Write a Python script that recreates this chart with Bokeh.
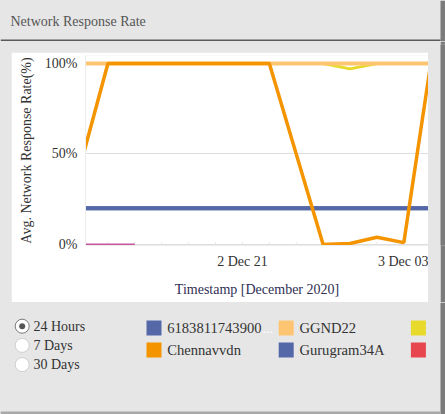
import pandas as pd
from bokeh.plotting import figure
from bokeh.layouts import column, row
from bokeh.models import Range1d, FixedTicker
from bokeh.core.properties import value
from bokeh.embed import file_html
from bokeh.resources import INLINE

FONT = "Liberation Serif"

# ---------------- data ----------------
title_text = "Network Response Rate"
times = ["2020-12-02 15:00", "2020-12-02 16:00", "2020-12-02 17:00", "2020-12-02 18:00",
         "2020-12-02 19:00", "2020-12-02 20:00", "2020-12-02 21:00", "2020-12-02 22:00",
         "2020-12-02 23:00", "2020-12-03 00:00", "2020-12-03 01:00", "2020-12-03 02:00",
         "2020-12-03 03:00", "2020-12-03 04:00"]
chennavvdn = [45, 100, 100, 100, 100, 100, 100, 100, 50, 0, 0.5, 4, 1, 100]
ggnd22 = [100, 100, 100, 100, 100, 100, 100, 100, 100, 100, 100, 100, 100, 100]
yellow_series = [100, 100, 100, 100, 100, 100, 100, 100, 100, 100, 97, 100, 100, 100]
gurugram34a = [20, 20, 20, 20, 20, 20, 20, 20, 20, 20, 20, 20, 20, 20]
s6183811743900 = [20, 20, 20, 20, 20, 20, 20, 20, 20, 20, 20, 20, 20, 20]
pink_times = ["2020-12-02 15:00", "2020-12-02 16:00", "2020-12-02 17:00"]
pink_series = [0, 0, 0]

y_ticks = [0, 50, 100]
y_tick_labels = ["0%", "50%", "100%"]
x_ticks = ["2020-12-02 21:00", "2020-12-03 03:00"]
x_tick_labels = ["2 Dec 21", "3 Dec 03"]
x_view = ["2020-12-02 15:10", "2020-12-03 03:55"]
x_title = "Timestamp [December 2020]"
y_title = "Avg. Network Response Rate(%)"

legend_labels = ["6183811743900", "Chennavvdn", "GGND22", "Gurugram34A", "", ""]
legend_colors = ["#5468a8", "#f39400", "#fdc572", "#5468a8", "#e8da2a", "#e8464e"]
periods = ["24 Hours", "7 Days", "30 Days"]
selected_period = "24 Hours"

C_ORANGE = "#f39400"
C_LORANGE = "#fdc572"
C_YELLOW = "#e8da2a"
C_BLUE = "#5468a8"
C_PINK = "#c4579e"
BG = "#e6e6e6"
DARK = "#7b7b7b"


def ms(s):
    return pd.Timestamp(s).value / 1e6


def blank(width, height, bg):
    f = figure(width=width, height=height, x_range=Range1d(0, width), y_range=Range1d(height, 0),
               toolbar_location=None, output_backend="svg", min_border=0,
               x_axis_location=None, y_axis_location=None,
               background_fill_color=bg, border_fill_color=bg, outline_line_color=None)
    for g in f.grid:
        g.visible = False
    return f


# ---------------- header ----------------
h = blank(445, 41, BG)
h.quad(left=[440], right=[445], top=[0], bottom=[41], fill_color=DARK, line_color=None)
h.quad(left=[0], right=[440], top=[39], bottom=[41.5], fill_color="#5a5a5a", line_color=None)
h.text(x=[10], y=[21], text=[title_text], text_font=value(FONT), text_font_size="14px",
       text_color="#555555", text_baseline="middle", text_align="left")

# ---------------- chart ----------------
t = pd.to_datetime(times)
p = figure(width=417, height=250, x_axis_type="datetime",
           x_range=Range1d(ms(x_view[0]), ms(x_view[1])), y_range=Range1d(-0.6, 104.4),
           toolbar_location=None, output_backend="svg",
           min_border_left=74, min_border_right=0, min_border_top=3, min_border_bottom=57,
           background_fill_color="white", border_fill_color="white", outline_line_color=None,
           margin=(11, 12, 0, 11))

# faint hourly tick marks along the bottom, under the series
p.segment(x0=t, y0=[y_ticks[0] - 0.6] * len(t), x1=t, y1=[y_ticks[0] + 1.2] * len(t),
          line_color="#e4e4e4", line_width=1)

p.line(t, s6183811743900, line_color=C_BLUE, line_width=4)
p.line(t, gurugram34a, line_color=C_BLUE, line_width=4)
p.line(pd.to_datetime(pink_times), pink_series, line_color=C_PINK, line_width=2)
p.line(t, yellow_series, line_color=C_YELLOW, line_width=3)
p.line(t, ggnd22, line_color=C_LORANGE, line_width=4)
p.line(t, chennavvdn, line_color=C_ORANGE, line_width=3.5)

p.xaxis.ticker = FixedTicker(ticks=[ms(s) for s in x_ticks])
p.xaxis.major_label_overrides = {ms(s): lab for s, lab in zip(x_ticks, x_tick_labels)}
p.yaxis.ticker = FixedTicker(ticks=y_ticks)
p.yaxis.major_label_overrides = dict(zip(y_ticks, y_tick_labels))

for ax in p.axis:
    ax.axis_line_color = "#ececec"
    ax.major_tick_out = 0
    ax.minor_tick_out = 0
    ax.major_tick_in = 0
    ax.minor_tick_in = 0
    ax.major_label_text_font = FONT
    ax.major_label_text_font_size = "14px"
    ax.major_label_text_color = "#333333"
    ax.axis_label_text_font = FONT
    ax.axis_label_text_font_size = "14px"
    ax.axis_label_text_font_style = "normal"
    ax.major_label_standoff = 8

p.xaxis.axis_label = x_title
p.xaxis.axis_label_text_color = "#2f2f55"
p.xaxis.axis_label_standoff = 10
p.yaxis.axis_label = y_title
p.yaxis.axis_label_text_color = "#333333"
p.yaxis.axis_label_standoff = 8

p.xgrid.visible = False
p.ygrid.grid_line_color = "#dedede"

strip = blank(5, 261, DARK)
mid = row(p, strip, styles={"background-color": BG})

# ---------------- bottom (radios + legend) ----------------
b = blank(445, 112, BG)
b.quad(left=[440], right=[445], top=[0], bottom=[112], fill_color=DARK, line_color=None)
b.quad(left=[0], right=[440], top=[109], bottom=[112], fill_color="#a9a9a9", line_color=None)

ry = [23.7 + i * 19.2 for i in range(len(periods))]
sel = [i for i, s in enumerate(periods) if s == selected_period]
b.scatter([21.7] * len(periods), ry, size=14, fill_color="white",
          line_color=["#7a7a7a" if i in sel else "#cfcfcf" for i in range(len(periods))],
          line_width=1)
b.scatter([21.7] * len(sel), [ry[i] for i in sel], size=6, fill_color="#555555", line_color=None)
b.text(x=[33] * len(periods), y=ry, text=periods, text_font=value(FONT), text_font_size="14px",
       text_color="#333333", text_baseline="middle", text_align="left")

lx, ly, tx, ty, tl = [], [], [], [], []
for i, (lab, col) in enumerate(zip(legend_labels, legend_colors)):
    c, r = i // 2, i % 2
    lx.append(153.5 + c * 132.2)
    ly.append(25.5 + r * 22)
    if lab:
        tx.append(166.7 + c * 132.2)
        ty.append(25.5 + r * 22)
        tl.append(lab)
b.rect(lx, ly, width=15, height=15, fill_color=legend_colors, line_color=None)
b.text(x=tx, y=ty, text=tl, text_font=value(FONT), text_font_size="14.6px",
       text_color="#333333", text_baseline="middle", text_align="left")
b.text(x=[262], y=[25.5], text=["..."], text_font=value(FONT), text_font_size="14px",
       text_color="#ffffff", text_baseline="middle", text_align="left")

root = column(h, mid, b, styles={"background-color": BG})

open("out.html", "w").write(file_html(root, INLINE))
